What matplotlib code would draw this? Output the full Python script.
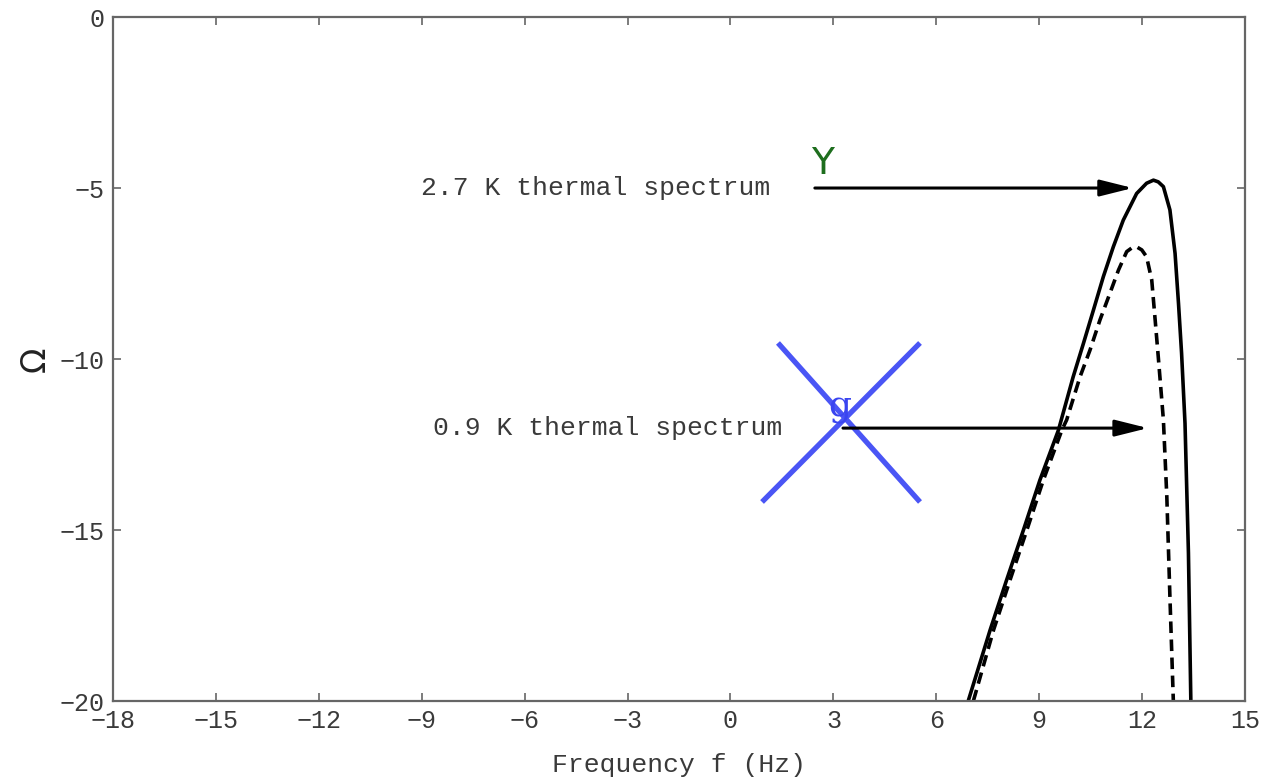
import matplotlib
matplotlib.use("Agg")
from matplotlib import pyplot as plt

# curves (frequency, Omega)
hot_f = [6.93, 7.57, 8.05, 8.54, 9.02, 9.56, 9.99, 10.29, 10.58, 10.87, 11.16,
         11.45, 11.84, 12.13, 12.33, 12.47, 12.62, 12.81, 12.96, 13.06, 13.15,
         13.25, 13.35, 13.42]
hot_y = [-20, -17.92, -16.46, -15.0, -13.54, -12.08, -10.52, -9.54, -8.57, -7.59,
         -6.72, -5.94, -5.16, -4.86, -4.77, -4.82, -4.96, -5.64, -6.91, -8.37,
         -9.83, -11.88, -15.67, -20]

cold_f = [7.08, 7.67, 8.15, 8.64, 9.12, 9.66, 9.80, 10.19, 10.48, 10.77, 11.06,
          11.31, 11.55, 11.70, 11.84, 11.99, 12.13, 12.28, 12.38, 12.47, 12.62,
          12.72, 12.81, 12.91]
cold_y = [-20, -17.92, -16.46, -15.0, -13.54, -12.08, -11.78, -10.52, -9.74,
          -8.86, -8.08, -7.40, -6.86, -6.75, -6.72, -6.81, -7.01, -7.69, -8.86,
          -9.93, -11.78, -14.03, -16.95, -20]

labels = ["2.7 K thermal spectrum", "0.9 K thermal spectrum"]
arrow_start = [(2.46, -5.0), (3.28, -12.02)]
arrow_end = [(11.73, -5.0), (12.17, -12.02)]
label_pos = [(1.15, -5.0), (1.5, -12.02)]

xticks = list(range(-18, 16, 3))
yticks = [0, -5, -10, -15, -20]

mono = "Liberation Mono"
grey = "#3a3a3a"

fig = plt.figure(figsize=(12.64, 7.81), dpi=100)
ax = fig.add_axes([0.0894, 0.1024, 0.8956, 0.8758])

ax.plot(hot_f, hot_y, color="black", lw=2.6, solid_joinstyle="round")
ax.plot(cold_f, cold_y, color="black", lw=2.6, ls=(0, (3.2, 1.8)))

for txt, a0, a1, lp in zip(labels, arrow_start, arrow_end, label_pos):
    ax.annotate("", xy=a1, xytext=a0,
                arrowprops=dict(arrowstyle="-|>,head_length=1.0,head_width=0.25",
                                mutation_scale=20, color="black", lw=2.2,
                                shrinkA=0, shrinkB=0))
    ax.text(lp[0], lp[1], txt, ha="right", va="center", family=mono,
            fontsize=19, color=grey)

# blue cross with its g, green Y
ax.plot([1.385, 5.525], [-9.53, -14.18], color="#4a55f5", lw=3.8, solid_capstyle="butt")
ax.plot([5.525, 0.92], [-9.53, -14.18], color="#4a55f5", lw=3.8, solid_capstyle="butt")
ax.text(3.19, -11.4, "g", color="#3a45f0", fontsize=26, family="DejaVu Serif",
        ha="center", va="center")
ax.text(2.68, -4.3, "Y", color="#1e6e1e", fontsize=27, family="DejaVu Sans",
        ha="center", va="center")

ax.set_xlim(-18, 15)
ax.set_ylim(-20, 0)
ax.set_xticks(xticks)
ax.set_yticks(yticks)
ax.tick_params(direction="in", length=6, width=1.2, top=True, right=True,
               colors="#666666", labelcolor=grey, pad=6)
for lab in ax.get_xticklabels() + ax.get_yticklabels():
    lab.set_family(mono)
    lab.set_fontsize(18)
for sp in ax.spines.values():
    sp.set_color("#666666")
    sp.set_linewidth(1.6)

ax.set_xlabel("Frequency f (Hz)", family=mono, fontsize=19, color=grey, labelpad=14)
ax.set_ylabel("\u03a9", family="DejaVu Sans", fontsize=24, color="#222222", labelpad=6)

fig.savefig("out.png", dpi=100)
